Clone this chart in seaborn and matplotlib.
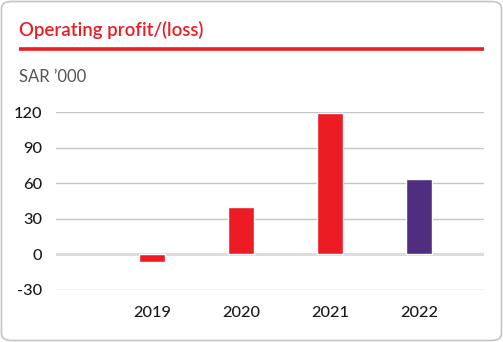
import matplotlib
matplotlib.use("Agg")
import matplotlib.pyplot as plt
from matplotlib.patches import FancyBboxPatch
from matplotlib.lines import Line2D
import seaborn as sns
import pandas as pd

# Operating profit/(loss), SAR '000
years = ["2019", "2020", "2021", "2022"]
profit = [-7, 40, 119, 64]
bar_colors = ["#ed1c24", "#ed1c24", "#ed1c24", "#4f2d7f"]
y_ticks = [-30, 0, 30, 60, 90, 120]

title = "Operating profit/(loss)"
unit = "SAR \u2019000"

sns.set_theme(style="white")
plt.rcParams["font.family"] = ["Lato", "DejaVu Sans"]

W, H = 503, 342
fig = plt.figure(figsize=(W / 100, H / 100), dpi=100)

# rounded card border
card = FancyBboxPatch((1.5 / W, 1.5 / H), (W - 3) / W, (H - 3) / H,
                      boxstyle="round,pad=0,rounding_size=0.02",
                      transform=fig.transFigure, facecolor="white",
                      edgecolor="#c4c4c4", linewidth=1.2, zorder=-10)
fig.patches.append(card)

# heading, red rule and unit label
fig.text(19 / W, 1 - 30 / H, title, color="#ed1c24", fontsize=13.4,
         fontweight="semibold", va="center", ha="left")
fig.add_artist(Line2D([19 / W, 484 / W], [1 - 49.3 / H, 1 - 49.3 / H],
                      transform=fig.transFigure, color="#ed1c24", linewidth=2.6,
                      solid_capstyle="butt"))
fig.text(19 / W, 1 - 77 / H, unit, color="#555555", fontsize=12,
         va="center", ha="left")

left, right = 56 / W, 484 / W
bottom, top = 1 - 289.7 / H, 1 - 112.3 / H
ax = fig.add_axes([left, bottom, right - left, top - bottom])
ax.set_facecolor("none")

df = pd.DataFrame({"year": years, "profit": profit})
sns.barplot(data=df, x="year", y="profit", hue="year", palette=bar_colors,
            legend=False, width=0.3, ax=ax, zorder=3, saturation=1)

ax.set_xlim(-1.08, 3.73)
ax.set_ylim(-30, 120)
ax.set_yticks(y_ticks)
ax.set_yticklabels([str(v) for v in y_ticks])
for v in y_ticks:
    if v == 0:
        ax.axhline(v, color="#dcdcdc", linewidth=2.2, zorder=1)
    else:
        ax.axhline(v, color="#c4c4c4", linewidth=1.0, zorder=1)

for s in ax.spines.values():
    s.set_visible(False)
ax.set_xlabel("")
ax.set_ylabel("")
ax.tick_params(axis="both", length=0, labelsize=11.8, colors="#1a1a1a")
ax.tick_params(axis="y", pad=10)
ax.tick_params(axis="x", pad=12)
for lab in ax.get_yticklabels():
    lab.set_horizontalalignment("right")
for lab in ax.get_xticklabels() + ax.get_yticklabels():
    lab.set_fontweight("medium")

fig.savefig("out.png", dpi=100)
